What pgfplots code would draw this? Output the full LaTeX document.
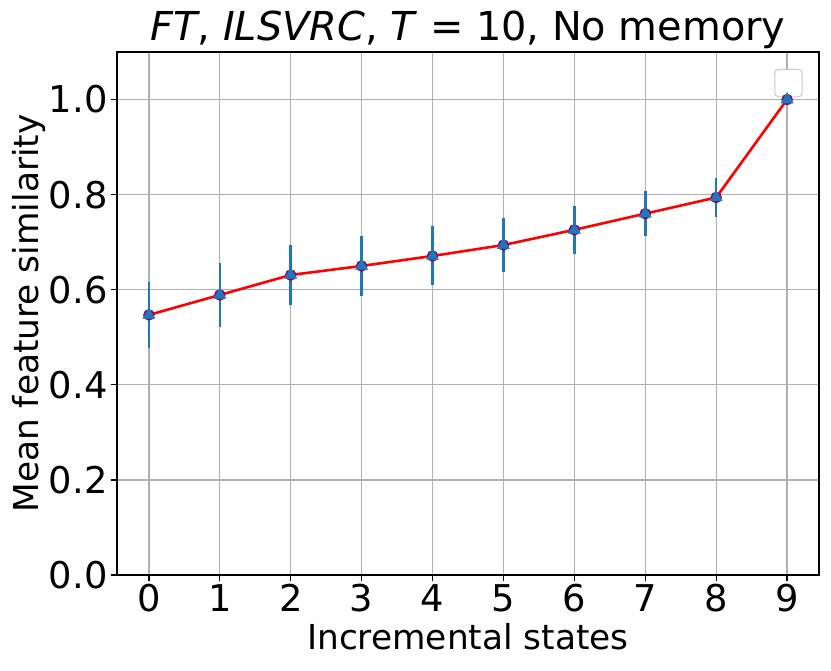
\documentclass[border=0pt]{standalone}
\usepackage{fontspec}
\setmainfont{DejaVu Sans}
\usepackage{pgfplots}
\pgfplotsset{compat=1.18}
\usepackage{pgfplotstable}
\definecolor{tabblue}{HTML}{1F77B4}
\definecolor{mpurple}{HTML}{800080}
\definecolor{gridgray}{HTML}{B0B0B0}
\pgfplotstableread{
x y err
0 0.547 0.070
1 0.589 0.068
2 0.631 0.064
3 0.650 0.064
4 0.671 0.062
5 0.694 0.056
6 0.726 0.051
7 0.760 0.047
8 0.794 0.042
9 1.000 0.000
}\datatable
\begin{document}
\begin{tikzpicture}
\begin{axis}[
  scale only axis,
  width=702bp, height=523bp,
  xmin=-0.45, xmax=9.45,
  ymin=0, ymax=1.1,
  xtick={0,1,...,9},
  ytick={0,0.2,0.4,0.6,0.8,1.0},
  yticklabel style={/pgf/number format/.cd,fixed,fixed zerofill,precision=1},
  /pgf/number format/assume math mode=true,
  tick label style={font=\fontsize{37}{44}\selectfont},
  label style={font=\fontsize{34.5}{41}\selectfont},
  title style={font=\fontsize{40}{48}\selectfont, yshift=-6bp},
  title={\textit{FT}, \textit{ILSVRC}, \textit{T} = 10, No memory},
  xlabel={Incremental states},
  ylabel={Mean feature similarity},
  xlabel style={yshift=-4bp},
  ylabel style={yshift=-4bp},
  grid=major,
  major grid style={gridgray, line width=1.3bp},
  axis line style={black, line width=1.3bp},
  tick align=outside,
  major tick length=6bp,
  tick style={black, line width=1.3bp},
  xtick pos=bottom, ytick pos=left,
  clip=false,
]
\addplot[only marks, mark=*, mark size=5.5bp, mpurple] table[x=x,y=y] {\datatable};
\addplot[red, line width=2.6bp, mark=none] table[x=x,y=y] {\datatable};
\addplot[draw=none, mark=triangle*, mark size=7bp, tabblue,
  mark options={fill=tabblue, draw=tabblue, line width=0.5bp},
  error bars/.cd, y dir=both, y explicit, error mark=none,
  error bar style={tabblue, line width=2.6bp}]
  table[x=x,y=y,y error=err] {\datatable};
\draw[gridgray!70, fill=white, rounded corners=4bp, line width=1bp]
  (rel axis cs:0.937,0.914) rectangle (rel axis cs:0.976,0.967);
\coordinate (sw) at (rel axis cs:0,0);
\coordinate (ne) at (rel axis cs:1,1);
\end{axis}
\pgfresetboundingbox
\path ([shift={(-117bp,-96bp)}]sw) rectangle ([shift={(12bp,52bp)}]ne);
\end{tikzpicture}
\end{document}
